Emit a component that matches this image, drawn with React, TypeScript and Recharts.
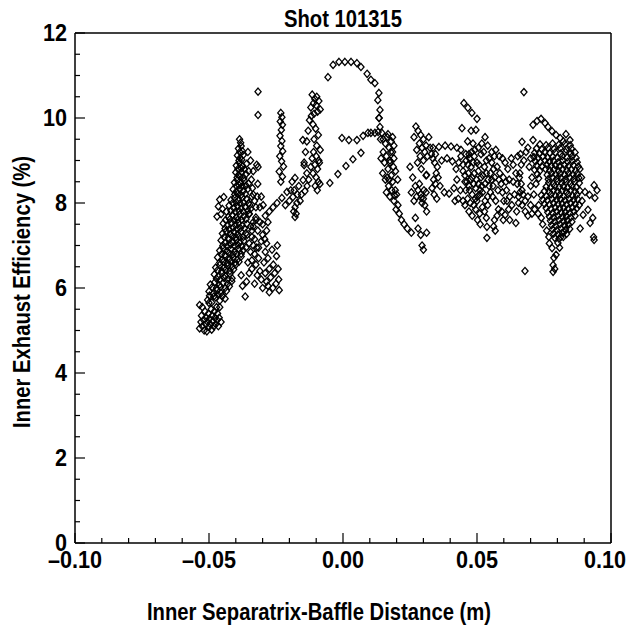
import { ScatterChart, Scatter, XAxis, YAxis } from "recharts";

const FONT = "'Liberation Sans', Arial, sans-serif";
const SQUEEZE = 0.88;

const xTicks = [-0.1, -0.09, -0.08, -0.07, -0.06, -0.05, -0.04, -0.03, -0.02, -0.01, 0, 0.01, 0.02, 0.03, 0.04, 0.05, 0.06, 0.07, 0.08, 0.09, 0.1];
const yTicks = [0, 0.5, 1, 1.5, 2, 2.5, 3, 3.5, 4, 4.5, 5, 5.5, 6, 6.5, 7, 7.5, 8, 8.5, 9, 9.5, 10, 10.5, 11, 11.5, 12];

type Pt = [number, number];

// bottom-left clump near -0.05
const lowClump: Pt[] = [
  [-0.0535, 5.05], [-0.053, 5.2], [-0.0528, 5.35], [-0.0525, 5.1], [-0.052, 5.25], [-0.0518, 5.0], [-0.0515, 5.45],
  [-0.0512, 5.15], [-0.051, 5.3], [-0.0508, 4.98], [-0.0505, 5.2], [-0.0502, 5.4], [-0.05, 5.08], [-0.0498, 5.28],
  [-0.0495, 5.15], [-0.0492, 5.5], [-0.049, 5.02], [-0.0488, 5.35], [-0.0485, 5.22], [-0.0482, 5.1], [-0.048, 5.45],
  [-0.0478, 5.3], [-0.0475, 5.15], [-0.0472, 5.55], [-0.047, 5.25], [-0.0468, 5.4], [-0.0465, 5.1], [-0.0462, 5.3],
  [-0.0535, 5.6], [-0.0525, 5.55], [-0.05, 5.65], [-0.046, 5.55], [-0.0455, 5.2],
];

// main rising band
const risingBand: Pt[] = [
  [-0.0505, 5.72], [-0.049, 5.66], [-0.0475, 5.78], [-0.046, 5.7], [-0.044, 5.75],
  [-0.05, 5.92], [-0.0485, 5.86], [-0.047, 5.95], [-0.0455, 5.88], [-0.0435, 5.93],
  [-0.0495, 6.08], [-0.0478, 6.14], [-0.0462, 6.06], [-0.0448, 6.12], [-0.043, 6.1], [-0.0415, 6.16],
  [-0.048, 6.32], [-0.0466, 6.27], [-0.0452, 6.35], [-0.0438, 6.28], [-0.0422, 6.33],
  [-0.0475, 6.48], [-0.046, 6.54], [-0.0445, 6.47], [-0.043, 6.52], [-0.0415, 6.49], [-0.04, 6.55],
  [-0.0468, 6.72], [-0.0452, 6.66], [-0.0438, 6.74], [-0.0425, 6.68], [-0.041, 6.71], [-0.0395, 6.66], [-0.038, 6.74],
  [-0.046, 6.88], [-0.0447, 6.94], [-0.0432, 6.87], [-0.0418, 6.92], [-0.0404, 6.86], [-0.039, 6.93], [-0.0372, 6.89],
  [-0.0455, 7.12], [-0.044, 7.06], [-0.0426, 7.14], [-0.0412, 7.08], [-0.0398, 7.13], [-0.0385, 7.07], [-0.037, 7.11], [-0.035, 7.05],
  [-0.045, 7.28], [-0.0436, 7.34], [-0.042, 7.27], [-0.0406, 7.32], [-0.0394, 7.26], [-0.038, 7.33], [-0.0362, 7.29], [-0.034, 7.35],
  [-0.0447, 7.52], [-0.0432, 7.46], [-0.0416, 7.54], [-0.0402, 7.48], [-0.039, 7.53], [-0.0376, 7.47], [-0.0358, 7.51], [-0.0335, 7.45],
  [-0.047, 7.68], [-0.0455, 7.74], [-0.0428, 7.67], [-0.0412, 7.72], [-0.0398, 7.66], [-0.0385, 7.73], [-0.037, 7.69], [-0.035, 7.74], [-0.0325, 7.66],
  [-0.0465, 7.92], [-0.045, 7.86], [-0.0425, 7.94], [-0.0408, 7.88], [-0.0394, 7.93], [-0.038, 7.87], [-0.0365, 7.91], [-0.0345, 7.86],
  [-0.046, 8.08], [-0.0445, 8.14], [-0.0418, 8.07], [-0.0404, 8.12], [-0.039, 8.06], [-0.0376, 8.13], [-0.036, 8.09], [-0.034, 8.15],
  [-0.041, 8.32], [-0.0398, 8.27], [-0.0386, 8.34], [-0.0372, 8.28], [-0.0355, 8.33],
  [-0.0405, 8.48], [-0.0394, 8.54], [-0.0382, 8.47], [-0.0368, 8.52], [-0.0352, 8.46],
  [-0.04, 8.72], [-0.039, 8.66], [-0.0378, 8.73], [-0.0362, 8.68],
  [-0.0398, 8.88], [-0.0386, 8.94], [-0.0374, 8.87], [-0.036, 8.92],
  [-0.0394, 9.12], [-0.0384, 9.06], [-0.0372, 9.13],
  [-0.039, 9.28], [-0.038, 9.34], [-0.0386, 9.5], [-0.0382, 9.42],
];

// points between the band rows
const bandFill: Pt[] = [
  [-0.0498, 5.82], [-0.0482, 5.8], [-0.0466, 5.84], [-0.045, 5.81], [-0.0488, 6.02], [-0.0472, 6.0], [-0.0456, 6.03],
  [-0.044, 6.0], [-0.0424, 6.04], [-0.0472, 6.22], [-0.0458, 6.2], [-0.0444, 6.24], [-0.043, 6.21], [-0.0414, 6.23],
  [-0.0468, 6.42], [-0.0452, 6.4], [-0.0438, 6.43], [-0.0422, 6.4], [-0.0408, 6.44], [-0.046, 6.6], [-0.0446, 6.62],
  [-0.0431, 6.59], [-0.0417, 6.63], [-0.0402, 6.6], [-0.0388, 6.62], [-0.0453, 6.8], [-0.044, 6.78], [-0.0425, 6.82],
  [-0.0411, 6.79], [-0.0397, 6.81], [-0.038, 6.8], [-0.0448, 7.0], [-0.0433, 6.98], [-0.0419, 7.02], [-0.0405, 6.99],
  [-0.0392, 7.01], [-0.0378, 6.98], [-0.0443, 7.2], [-0.0428, 7.18], [-0.0413, 7.22], [-0.04, 7.19], [-0.0387, 7.21],
  [-0.0372, 7.2], [-0.044, 7.4], [-0.0425, 7.38], [-0.041, 7.42], [-0.0396, 7.39], [-0.0383, 7.41], [-0.0368, 7.4],
  [-0.0438, 7.6], [-0.0422, 7.62], [-0.0406, 7.59], [-0.0392, 7.61], [-0.0378, 7.6], [-0.0362, 7.62], [-0.0435, 7.8],
  [-0.0418, 7.82], [-0.0402, 7.79], [-0.0388, 7.81], [-0.0372, 7.8], [-0.0355, 7.82], [-0.0412, 8.0], [-0.0398, 8.02],
  [-0.0384, 7.99], [-0.037, 8.01], [-0.0352, 8.0], [-0.0404, 8.2], [-0.0392, 8.22], [-0.038, 8.19], [-0.0364, 8.21],
  [-0.0398, 8.4], [-0.0388, 8.42], [-0.0376, 8.39], [-0.0362, 8.41], [-0.0395, 8.6], [-0.0384, 8.62], [-0.037, 8.59],
  [-0.0392, 8.8], [-0.038, 8.82], [-0.0368, 8.79], [-0.0388, 9.0], [-0.0378, 9.02], [-0.0385, 9.2], [-0.0375, 9.22],
];

// scatter to the right of the band
const bandFringe: Pt[] = [
  [-0.035, 7.75], [-0.0345, 7.45], [-0.034, 7.2], [-0.0335, 7.0], [-0.033, 6.8], [-0.0345, 6.85], [-0.0355, 6.6],
  [-0.034, 6.45], [-0.0325, 6.55], [-0.032, 6.3], [-0.033, 6.1], [-0.031, 6.4], [-0.0305, 6.2], [-0.03, 6.0],
  [-0.0295, 6.6], [-0.029, 6.35], [-0.0285, 6.15], [-0.028, 6.05], [-0.029, 6.85], [-0.0285, 7.05], [-0.028, 6.7],
  [-0.0275, 6.45], [-0.027, 6.25], [-0.0265, 6.9], [-0.026, 6.55], [-0.0255, 6.35], [-0.025, 6.1], [-0.0248, 6.75],
  [-0.0245, 7.0], [-0.0242, 6.45], [-0.024, 6.2], [-0.0238, 5.95], [-0.0262, 6.0], [-0.0275, 5.9], [-0.0315, 6.95],
  [-0.03, 7.25], [-0.031, 7.55], [-0.0325, 7.9], [-0.0335, 8.2], [-0.0318, 8.45], [-0.0322, 8.9], [-0.0317, 8.85],
  [-0.0317, 10.07], [-0.0317, 10.62], [-0.0365, 5.8], [-0.0375, 6.05], [-0.038, 6.3], [-0.0335, 7.55],
  [-0.0305, 8.15], [-0.0298, 7.95], [-0.029, 7.7], [-0.03, 7.5], [-0.0285, 7.35], [-0.0292, 7.15], [-0.028, 7.55], [-0.0275, 7.8],
  [-0.0338, 8.35], [-0.033, 8.05], [-0.0325, 7.6], [-0.0318, 7.35], [-0.033, 7.15], [-0.0322, 6.95], [-0.034, 6.65],
  [-0.0348, 7.95], [-0.0342, 8.55], [-0.0335, 8.75], [-0.0352, 8.75], [-0.0345, 9.0], [-0.0355, 9.2], [-0.031, 7.9],
  [-0.0305, 7.1], [-0.0315, 6.7], [-0.032, 8.15], [-0.0358, 7.25], [-0.0362, 6.95], [-0.035, 6.35], [-0.036, 6.15],
];

// narrow spike near -0.023
const spikeA: Pt[] = [
  [-0.0232, 10.12], [-0.0228, 10.02], [-0.0234, 9.92], [-0.0226, 9.84], [-0.023, 9.72], [-0.0235, 9.58], [-0.0228, 9.46],
  [-0.0232, 9.34], [-0.0225, 9.22], [-0.0236, 9.1], [-0.0229, 8.98], [-0.0222, 8.86], [-0.0238, 8.74], [-0.0226, 8.62], [-0.0232, 8.5],
];

// crossing strokes around -0.02 .. -0.013
const crossPts: Pt[] = [
  [-0.0261, 7.9], [-0.0246, 8.0], [-0.0228, 8.12], [-0.0209, 8.26], [-0.019, 8.5], [-0.0179, 8.59], [-0.0187, 8.14],
  [-0.0179, 7.9], [-0.0179, 7.67], [-0.016, 8.05], [-0.0142, 8.28], [-0.0134, 8.4], [-0.0145, 8.89], [-0.0149, 8.54],
  [-0.0172, 8.0], [-0.0184, 7.8], [-0.0195, 8.3], [-0.02, 8.05], [-0.0215, 7.95], [-0.0165, 8.4], [-0.0155, 8.2],
  [-0.0175, 7.75], [-0.0182, 8.3], [-0.017, 8.2],
];

// spike near -0.01
const spikeB: Pt[] = [
  [-0.0115, 10.55], [-0.0105, 10.45], [-0.0098, 10.5], [-0.011, 10.35], [-0.012, 10.25], [-0.01, 10.3], [-0.009, 10.4],
  [-0.0108, 10.1], [-0.0118, 10.05], [-0.0095, 10.15], [-0.0125, 9.95], [-0.013, 9.7], [-0.0135, 9.45], [-0.0112, 9.85],
  [-0.0102, 9.75], [-0.0092, 9.6], [-0.0108, 9.5], [-0.0098, 9.35], [-0.011, 9.2], [-0.01, 9.1], [-0.009, 9.0],
  [-0.0105, 8.9], [-0.0095, 8.8], [-0.0112, 8.7], [-0.01, 8.6], [-0.0092, 8.5], [-0.0104, 8.4], [-0.0096, 8.3],
  [-0.0088, 8.95], [-0.0085, 9.25], [-0.0115, 9.05], [-0.012, 8.85], [-0.0086, 8.45], [-0.0085, 10.2],
  [-0.015, 9.48], [-0.014, 9.2], [-0.0145, 8.95], [-0.0135, 8.7], [-0.0128, 8.55],
];

// the open loop over zero
const upperArc: Pt[] = [
  [-0.0056, 10.96], [-0.0037, 11.25], [-0.0015, 11.32], [0.0007, 11.32], [0.003, 11.32], [0.0052, 11.29],
  [0.0067, 11.2], [0.009, 11.04], [0.0104, 10.9], [0.0119, 10.82], [0.0134, 10.59], [0.013, 10.42],
  [0.0138, 10.19], [0.0134, 10.0],
];
const midRow: Pt[] = [
  [-0.0004, 9.53], [0.0022, 9.48], [0.0052, 9.48], [0.0075, 9.58], [0.0093, 9.65], [0.0104, 9.65], [0.0119, 9.65], [0.0131, 9.67],
];
const lowDiag: Pt[] = [
  [-0.0049, 8.47], [-0.0019, 8.68], [0.0011, 8.87], [0.0037, 9.03], [0.0067, 9.18],
];

// clump 0.013 .. 0.025
const clusterH: Pt[] = [
  [0.0138, 9.79], [0.0145, 9.65], [0.015, 9.5], [0.0158, 9.4], [0.0165, 9.55], [0.0172, 9.3], [0.018, 9.45],
  [0.015, 9.2], [0.0162, 9.1], [0.0175, 9.0], [0.0185, 9.2], [0.019, 9.05], [0.0155, 8.95], [0.0168, 8.8],
  [0.018, 8.65], [0.0158, 8.55], [0.017, 8.4], [0.0185, 8.5], [0.0195, 8.3], [0.0162, 8.25], [0.0175, 8.15],
  [0.019, 8.05], [0.02, 8.2], [0.0205, 7.95], [0.0198, 7.85], [0.021, 7.75], [0.0218, 7.6], [0.0228, 7.5],
  [0.024, 7.4], [0.0255, 7.3], [0.0148, 8.7], [0.0142, 9.05], [0.0196, 8.75], [0.0204, 8.55], [0.0185, 9.55],
  [0.019, 9.35], [0.0135, 10.0], [0.014, 9.5], [0.0175, 8.95], [0.0165, 8.6], [0.0168, 9.62], [0.0178, 9.2],
  [0.0188, 8.85], [0.0172, 8.55], [0.0182, 8.3], [0.0192, 8.18],
];

// clump 0.025 .. 0.034
const clusterI: Pt[] = [
  [0.028, 9.7], [0.029, 9.6], [0.03, 9.5], [0.0285, 9.4], [0.0295, 9.3], [0.0305, 9.2], [0.0275, 9.25],
  [0.0288, 9.1], [0.03, 9.0], [0.031, 9.35], [0.0315, 9.1], [0.032, 9.55], [0.0325, 9.3], [0.033, 9.15],
  [0.0278, 8.95], [0.0292, 8.8], [0.031, 8.65], [0.027, 8.4], [0.028, 8.3], [0.029, 8.2], [0.03, 8.1],
  [0.031, 8.25], [0.0295, 8.0], [0.0285, 8.45], [0.0275, 8.15], [0.0305, 7.95], [0.0265, 8.05], [0.0255, 8.25],
  [0.027, 7.65], [0.028, 7.4], [0.029, 7.25], [0.0295, 7.0], [0.03, 6.9], [0.0312, 8.66], [0.0312, 7.8],
  [0.0312, 7.3], [0.026, 8.6], [0.025, 8.85], [0.0265, 9.55], [0.0272, 9.8], [0.0292, 8.12], [0.0302, 8.3],
];

const flatRow: Pt[] = [
  [0.0336, 9.3], [0.0358, 9.32], [0.0381, 9.35], [0.0403, 9.33], [0.0425, 9.3], [0.044, 9.25],
];
const topRun: Pt[] = [
  [0.0451, 10.35], [0.0466, 10.24], [0.0481, 10.12], [0.05, 9.98], [0.0444, 9.76],
];

// curly loops 0.034 .. 0.066
const loops: Pt[] = [
  [0.0352, 8.85], [0.0355, 8.6], [0.0362, 8.4], [0.0378, 8.25], [0.0396, 8.22], [0.0414, 8.35], [0.0425, 8.55],
  [0.0422, 8.8], [0.0408, 8.98], [0.0388, 9.05], [0.0368, 9.0], [0.0345, 8.45], [0.034, 8.2], [0.035, 8.1],
  [0.0432, 8.95], [0.044, 9.1], [0.0448, 8.75], [0.0455, 8.5], [0.0438, 8.3], [0.043, 8.1], [0.0418, 8.05],
  [0.046, 9.0], [0.047, 9.15], [0.048, 9.2], [0.049, 9.1], [0.05, 8.95], [0.0505, 8.75], [0.0498, 8.55],
  [0.0488, 8.45], [0.0476, 8.55], [0.0468, 8.7], [0.0462, 8.5], [0.0458, 8.3], [0.0465, 8.1], [0.0475, 8.0],
  [0.0488, 7.95], [0.05, 8.05], [0.051, 8.2], [0.0518, 8.4], [0.0522, 8.65], [0.0528, 8.85], [0.0535, 9.0],
  [0.0545, 9.05], [0.0555, 8.95], [0.0562, 8.8], [0.0566, 8.6], [0.056, 8.4], [0.055, 8.25], [0.054, 8.15],
  [0.053, 8.05], [0.052, 7.9], [0.051, 7.75], [0.0495, 7.85], [0.0482, 7.7], [0.047, 7.8], [0.0455, 7.95],
  [0.0448, 8.05], [0.0478, 9.7], [0.0496, 9.72], [0.0485, 9.4], [0.0492, 9.25], [0.0505, 9.3], [0.0515, 9.15],
  [0.0525, 9.2], [0.0508, 8.9], [0.0515, 8.6], [0.053, 8.45], [0.0542, 8.55], [0.055, 8.7], [0.0575, 8.85],
  [0.0585, 8.7], [0.059, 8.45], [0.0595, 8.25], [0.06, 8.05], [0.061, 8.3], [0.062, 8.55], [0.0615, 8.8],
  [0.0605, 8.95], [0.0595, 9.05], [0.0583, 9.1], [0.057, 9.25], [0.0622, 8.15], [0.063, 7.95], [0.064, 8.2],
  [0.065, 8.45], [0.0645, 8.7], [0.0635, 8.9], [0.0628, 9.05], [0.066, 8.25], [0.0655, 8.0], [0.0648, 7.8],
  [0.058, 7.85], [0.0565, 7.6], [0.0562, 7.45], [0.0568, 7.35], [0.0535, 7.65], [0.0605, 7.72], [0.0622, 7.6],
  [0.0645, 7.53], [0.0537, 7.44], [0.0537, 7.18], [0.052, 8.25], [0.0465, 9.45], [0.0472, 8.3],
  [0.0345, 9.15], [0.0335, 9.05], [0.0342, 8.95], [0.0348, 8.7], [0.0338, 8.55], [0.0332, 8.35], [0.0458, 9.15],
  [0.0472, 9.05], [0.0486, 8.95], [0.0478, 8.85], [0.0466, 8.9], [0.049, 8.7], [0.0482, 8.6], [0.0495, 8.35],
  [0.0505, 8.45], [0.0512, 8.3], [0.0502, 8.15], [0.0494, 8.1], [0.0482, 8.2], [0.047, 8.4], [0.0455, 8.65],
  [0.0448, 8.9], [0.0535, 8.7], [0.0545, 8.4], [0.0555, 8.55], [0.0558, 8.15], [0.057, 8.05], [0.0578, 8.3],
  [0.0582, 8.55], [0.0598, 8.6], [0.0608, 8.5], [0.0612, 8.05], [0.0618, 7.85], [0.0635, 8.5], [0.0658, 8.6],
  [0.0665, 8.9], [0.0652, 9.1], [0.0518, 9.4], [0.053, 9.55], [0.054, 9.35], [0.0555, 9.2], [0.0565, 9.1],
  [0.0502, 7.6], [0.0512, 7.5], [0.0528, 7.8], [0.054, 7.95], [0.0592, 7.8], [0.0598, 7.6], [0.0575, 7.7],
];

// dense clump near 0.08
const coreRows: Pt[] = [
  [0.0735, 9.38], [0.0758, 9.36], [0.0782, 9.4], [0.0805, 9.37], [0.0828, 9.39], [0.0848, 9.36],
  [0.0722, 9.28], [0.0742, 9.26], [0.0765, 9.3], [0.0788, 9.27], [0.081, 9.29], [0.0832, 9.26], [0.0852, 9.28],
  [0.0715, 9.18], [0.0733, 9.16], [0.0752, 9.2], [0.0772, 9.17], [0.0792, 9.19], [0.0812, 9.16], [0.083, 9.2], [0.085, 9.17], [0.0866, 9.19],
  [0.0712, 9.08], [0.0728, 9.06], [0.0746, 9.1], [0.0764, 9.07], [0.0782, 9.09], [0.08, 9.06], [0.0818, 9.1], [0.0836, 9.07], [0.0854, 9.09], [0.087, 9.06],
  [0.0718, 8.98], [0.0736, 8.96], [0.0754, 9.0], [0.077, 8.97], [0.0786, 8.99], [0.0803, 8.96], [0.082, 9.0], [0.0838, 8.97], [0.0856, 8.99], [0.0874, 8.96],
  [0.0722, 8.88], [0.0742, 8.86], [0.076, 8.9], [0.0776, 8.87], [0.0792, 8.89], [0.0808, 8.86], [0.0825, 8.9], [0.0842, 8.87], [0.086, 8.89], [0.0878, 8.86],
  [0.0715, 8.78], [0.0735, 8.76], [0.0756, 8.8], [0.0772, 8.77], [0.0788, 8.79], [0.0804, 8.76], [0.082, 8.8], [0.0836, 8.77], [0.0852, 8.79], [0.0868, 8.76], [0.0884, 8.8],
  [0.0725, 8.68], [0.0762, 8.66], [0.0778, 8.7], [0.0794, 8.67], [0.081, 8.69], [0.0826, 8.66], [0.0842, 8.7], [0.0858, 8.67], [0.0874, 8.69],
  [0.073, 8.58], [0.0766, 8.56], [0.0782, 8.6], [0.0798, 8.57], [0.0814, 8.59], [0.083, 8.56], [0.0846, 8.6], [0.0862, 8.57], [0.088, 8.59],
  [0.0768, 8.48], [0.0784, 8.46], [0.08, 8.5], [0.0816, 8.47], [0.0832, 8.49], [0.0848, 8.46], [0.0864, 8.5], [0.0882, 8.47],
  [0.0758, 8.38], [0.0774, 8.36], [0.079, 8.4], [0.0806, 8.37], [0.0822, 8.39], [0.0838, 8.36], [0.0854, 8.4], [0.087, 8.37],
  [0.0752, 8.28], [0.077, 8.26], [0.0786, 8.3], [0.0802, 8.27], [0.0818, 8.29], [0.0834, 8.26], [0.085, 8.3], [0.0866, 8.27], [0.0884, 8.29],
  [0.074, 8.18], [0.0758, 8.16], [0.0776, 8.2], [0.0792, 8.17], [0.0808, 8.19], [0.0824, 8.16], [0.084, 8.2], [0.0856, 8.17], [0.0872, 8.19],
  [0.0745, 8.08], [0.0762, 8.06], [0.078, 8.1], [0.0796, 8.07], [0.0812, 8.09], [0.0828, 8.06], [0.0844, 8.1], [0.086, 8.07], [0.0876, 8.09],
  [0.0752, 7.98], [0.077, 7.96], [0.0786, 8.0], [0.0802, 7.97], [0.0818, 7.99], [0.0834, 7.96], [0.085, 8.0], [0.0866, 7.97],
  [0.0758, 7.88], [0.0776, 7.86], [0.0792, 7.9], [0.0808, 7.87], [0.0824, 7.89], [0.084, 7.86], [0.0856, 7.9], [0.0872, 7.87],
  [0.0764, 7.78], [0.0782, 7.76], [0.0798, 7.8], [0.0814, 7.77], [0.083, 7.79], [0.0846, 7.76], [0.0862, 7.8],
  [0.077, 7.68], [0.0786, 7.66], [0.0802, 7.7], [0.0818, 7.67], [0.0834, 7.69], [0.085, 7.66], [0.0866, 7.7],
  [0.0774, 7.58], [0.079, 7.56], [0.0806, 7.6], [0.0822, 7.57], [0.0838, 7.59], [0.0854, 7.56],
  [0.0778, 7.48], [0.0794, 7.46], [0.081, 7.5], [0.0826, 7.47], [0.0842, 7.49],
  [0.0782, 7.38], [0.0798, 7.36], [0.0814, 7.4], [0.083, 7.37], [0.0846, 7.39],
  [0.0786, 7.28], [0.0802, 7.26], [0.0818, 7.3], [0.0834, 7.27],
  [0.079, 7.18], [0.0806, 7.16], [0.0822, 7.2],
];

// left edge of that clump
const coreLeft: Pt[] = [
  [0.069, 9.3], [0.07, 9.05], [0.0695, 8.85], [0.0705, 8.6], [0.07, 8.4], [0.0712, 8.2], [0.069, 8.15],
  [0.068, 8.05], [0.07, 7.95], [0.0715, 7.85], [0.0728, 7.75], [0.074, 7.65], [0.072, 8.45], [0.0668, 8.3],
  [0.0655, 8.15], [0.073, 7.95], [0.0745, 7.5], [0.076, 7.35], [0.0768, 7.2], [0.0665, 8.45], [0.0672, 8.2],
  [0.0668, 7.95], [0.068, 7.8], [0.069, 7.7], [0.0705, 7.75], [0.066, 8.7], [0.0675, 9.0], [0.0683, 9.2], [0.0662, 9.15],
];

const rightEdge: Pt[] = [
  [0.0937, 8.42], [0.094, 8.12], [0.0922, 7.53], [0.0937, 7.13], [0.0914, 7.84], [0.0903, 8.26], [0.092, 8.19],
  [0.0948, 8.3], [0.0896, 7.72], [0.0881, 7.95], [0.089, 8.6], [0.0885, 7.4], [0.0935, 7.2], [0.0932, 7.65], [0.0892, 8.05],
];
const tail: Pt[] = [
  [0.078, 6.94], [0.0787, 6.71], [0.0784, 6.54], [0.0784, 6.38], [0.079, 6.45], [0.0795, 6.78], [0.0802, 7.06],
  [0.0813, 7.2], [0.0825, 7.32], [0.077, 7.05], [0.0808, 6.95],
];
const topChain: Pt[] = [
  [0.0709, 9.84], [0.0724, 9.93], [0.0739, 9.98], [0.0754, 9.88], [0.0765, 9.79], [0.078, 9.69], [0.0795, 9.6],
  [0.081, 9.53], [0.0832, 9.62], [0.0847, 9.48], [0.0822, 9.45], [0.0668, 9.44], [0.0709, 9.48], [0.0675, 10.61], [0.0679, 6.4],
];

const allPts = [
  ...lowClump, ...risingBand, ...bandFill, ...bandFringe, ...spikeA, ...crossPts, ...spikeB, ...upperArc, ...midRow,
  ...lowDiag, ...clusterH, ...clusterI, ...flatRow, ...topRun, ...loops, ...coreRows, ...coreLeft, ...rightEdge,
  ...tail, ...topChain,
].map(([x, y]) => ({ x, y }));

const fmt = (v: number) => (v < 0 ? "\u2013" : "") + Math.abs(v).toFixed(2);
const isMajorX = (v: number) => Math.abs(Math.round(v * 100)) % 5 === 0;
const isMajorY = (v: number) => Math.abs(Math.round(v * 2)) % 4 === 0;

const txt = { fontFamily: FONT, fontWeight: 700, fontSize: 24, fill: "#000" } as const;

function BottomTick(p: any) {
  const v = p.payload.value;
  const major = isMajorX(v);
  const last = v > 0.095;
  return (
    <g>
      <line x1={p.x} x2={p.x} y1={p.y} y2={p.y - (major ? 10 : 5)} stroke="#000" strokeWidth={1.2} />
      {major && (
        <text
          transform={`translate(${last ? 626 : p.x},${p.y + 25}) scale(0.9,1)`}
          textAnchor={last ? "end" : "middle"}
          style={txt}
        >
          {fmt(v)}
        </text>
      )}
    </g>
  );
}
function TopTick(p: any) {
  const major = isMajorX(p.payload.value);
  return <line x1={p.x} x2={p.x} y1={p.y} y2={p.y + (major ? 10 : 5)} stroke="#000" strokeWidth={1.2} />;
}
function LeftTick(p: any) {
  const major = isMajorY(p.payload.value);
  return (
    <g>
      <line x1={p.x} x2={p.x + (major ? 10 : 5)} y1={p.y} y2={p.y} stroke="#000" strokeWidth={1.2} />
      {major && (
        <text transform={`translate(${p.x - 8},${p.y + 8}) scale(0.9,1)`} textAnchor="end" style={txt}>
          {p.payload.value}
        </text>
      )}
    </g>
  );
}
function RightTick(p: any) {
  const major = isMajorY(p.payload.value);
  return <line x1={p.x} x2={p.x - (major ? 10 : 5)} y1={p.y} y2={p.y} stroke="#000" strokeWidth={1.2} />;
}

const Diamond = (p: any) => (
  <path
    d={`M${p.cx},${p.cy - 3.6}L${p.cx + 3.1},${p.cy}L${p.cx},${p.cy + 3.6}L${p.cx - 3.1},${p.cy}Z`}
    fill="none"
    stroke="#000"
    strokeWidth={1.3}
  />
);

const labelStyle: React.CSSProperties = {
  position: "absolute",
  fontFamily: FONT,
  fontWeight: 700,
  fontSize: 23,
  whiteSpace: "nowrap",
  color: "#000",
  lineHeight: 1,
};

export default function App() {
  return (
    <div style={{ position: "absolute", left: 0, top: 0, width: 627, height: 634, background: "#fff", overflow: "hidden" }}>
      <ScatterChart width={627} height={634} margin={{ top: 0, right: 0, bottom: 0, left: 0 }}>
        <XAxis
          dataKey="x"
          type="number"
          domain={[-0.1, 0.1]}
          ticks={xTicks}
          interval={0}
          height={91}
          tickSize={0}
          tickMargin={0}
          tick={<BottomTick />}
          tickLine={false}
          axisLine={{ stroke: "#000", strokeWidth: 1.5 }}
        />
        <XAxis
          xAxisId="top"
          orientation="top"
          type="number"
          domain={[-0.1, 0.1]}
          ticks={xTicks}
          interval={0}
          height={33}
          tickSize={0}
          tickMargin={0}
          tick={<TopTick />}
          tickLine={false}
          axisLine={{ stroke: "#000", strokeWidth: 1.5 }}
        />
        <YAxis
          dataKey="y"
          type="number"
          domain={[0, 12]}
          ticks={yTicks}
          interval={0}
          width={75}
          tickSize={0}
          tickMargin={0}
          tick={<LeftTick />}
          tickLine={false}
          axisLine={{ stroke: "#000", strokeWidth: 1.5 }}
        />
        <YAxis
          yAxisId="right"
          orientation="right"
          type="number"
          domain={[0, 12]}
          ticks={yTicks}
          interval={0}
          width={16}
          tickSize={0}
          tickMargin={0}
          tick={<RightTick />}
          tickLine={false}
          axisLine={{ stroke: "#000", strokeWidth: 1.5 }}
        />
        <Scatter data={allPts} shape={<Diamond />} isAnimationActive={false} />
      </ScatterChart>
      <div style={{ ...labelStyle, left: 343, top: 8, transform: `translateX(-50%) scaleX(${SQUEEZE})` }}>Shot 101315</div>
      <div style={{ ...labelStyle, left: 319, top: 601, transform: `translateX(-50%) scaleX(${SQUEEZE})` }}>
        Inner Separatrix-Baffle Distance (m)
      </div>
      <div
        style={{
          ...labelStyle,
          left: 22,
          top: 292,
          transform: `translate(-50%, -50%) rotate(-90deg) scaleX(${SQUEEZE})`,
        }}
      >
        Inner Exhaust Efficiency (%)
      </div>
    </div>
  );
}
